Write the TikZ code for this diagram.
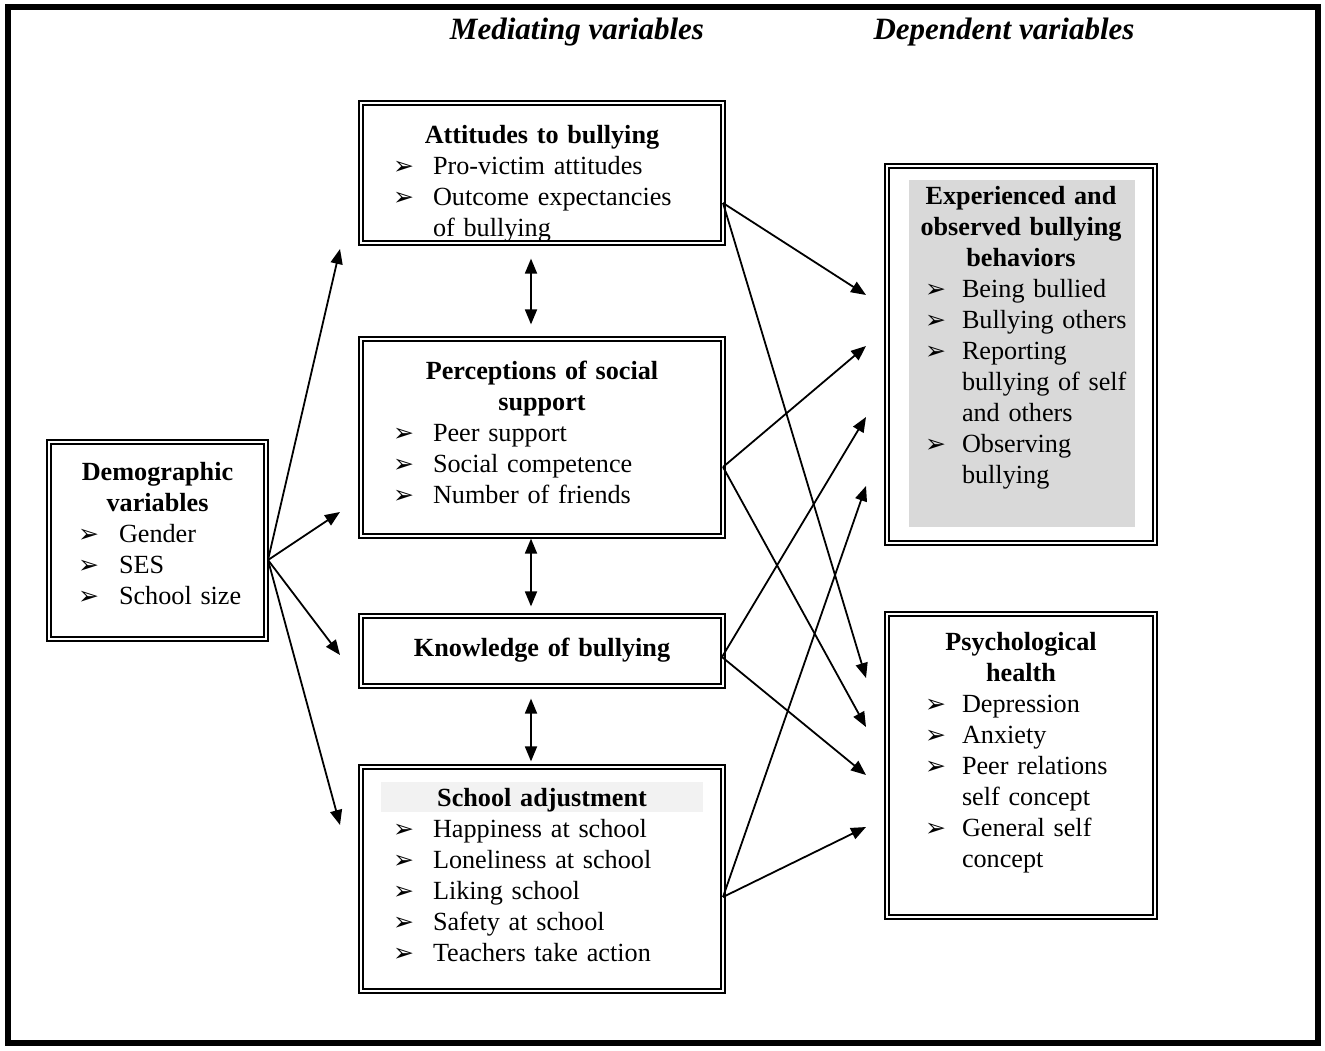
\documentclass[tikz,border=0pt]{standalone}
\usepackage{fontspec}
\setmainfont{Liberation Serif}
\newfontfamily\symfont{DejaVu Sans}
\usetikzlibrary{arrows.meta}
\setlength\parindent{0pt}
\definecolor{expgray}{HTML}{D9D9D9}
\definecolor{bandgray}{HTML}{F2F2F2}
\newlength\bind
\newlength\bgap
\newcommand{\bul}{{\symfont\fontsize{25}{25}\selectfont ➢}}
\newcommand{\itm}[1]{\par\hspace*{\bind}\makebox[\bgap][l]{\bul}#1}
\newcommand{\cnt}[1]{\par\hspace*{\bind}\hspace*{\bgap}#1}
\newcommand{\ttl}[1]{{\centering\bfseries #1\par}}
\tikzset{
  tribox/.style = {draw, line width=1.2pt, inner sep=0pt},
  boxtext/.style = {anchor=north, inner sep=0pt, font=\fontsize{26.2}{31}\selectfont},
  midtext/.style = {boxtext, text width=355pt,
    execute at begin node={\setlength\bind{28.5pt}\setlength\bgap{40pt}}},
  demotext/.style = {boxtext, text width=205pt,
    execute at begin node={\setlength\bind{23pt}\setlength\bgap{41pt}}},
  deptext/.style = {boxtext, text width=255pt,
    execute at begin node={\setlength\bind{31.5pt}\setlength\bgap{37pt}}},
  heading/.style = {font=\bfseries\itshape\fontsize{31}{36}\selectfont},
  link/.style = {line width=1.8pt, -{Triangle[length=15pt,width=12pt]}},
  twoway/.style = {line width=1.8pt, {Triangle[length=15pt,width=12pt]}-{Triangle[length=15pt,width=12pt]}}
}
\begin{document}
\begin{tikzpicture}[x=1pt,y=-1pt]
  \useasboundingbox (0,0) rectangle (1325,1050);
  \draw[line width=6pt] (8,7) rectangle (1318,1043);
  % column headings
  \node[heading] (med) at (577,32) {Mediating variables};
  \node[heading] (dep) at (1004,32) {Dependent variables};
  % boxes
  \node[tribox, minimum width=221pt, minimum height=201pt] (demo) at (157.5,540.5) {};
  \node[tribox, minimum width=366pt, minimum height=144pt] (att) at (542,173) {};
  \node[tribox, minimum width=366pt, minimum height=201pt] (per) at (542,437.5) {};
  \node[tribox, minimum width=366pt, minimum height=74pt] (kno) at (542,651) {};
  \node[tribox, minimum width=366pt, minimum height=228pt] (sch) at (542,879) {};
  \node[tribox, minimum width=272pt, minimum height=381pt] (exp) at (1021,354.5) {};
  \node[tribox, minimum width=272pt, minimum height=307pt] (psy) at (1021,765.5) {};
  \foreach \b in {demo,att,per,kno,sch,exp,psy}
    \draw[line width=2.5pt] ([shift={(4.5pt,-4.5pt)}]\b.north west)
      rectangle ([shift={(-4.5pt,4.5pt)}]\b.south east);
  \fill[expgray] (909,180) rectangle (1135,527);
  \fill[bandgray] (381,782) rectangle (703,812);
  % box texts
  \node[demotext] (demo-t) at (157.5,462) {\ttl{Demographic\\variables}%
    \itm{Gender}\itm{SES}\itm{School size}};
  \node[midtext] (att-t) at (542,125) {\ttl{Attitudes to bullying}%
    \itm{Pro-victim attitudes}\itm{Outcome expectancies}\cnt{of bullying}};
  \node[midtext] (per-t) at (542,361) {\ttl{Perceptions of social\\support}%
    \itm{Peer support}\itm{Social competence}\itm{Number of friends}};
  \node[midtext] (kno-t) at (542,638) {\ttl{Knowledge of bullying}};
  \node[midtext] (sch-t) at (542,788) {\ttl{School adjustment}%
    \itm{Happiness at school}\itm{Loneliness at school}\itm{Liking school}%
    \itm{Safety at school}\itm{Teachers take action}};
  \node[deptext] (exp-t) at (1021,186) {\ttl{Experienced and\\observed bullying\\behaviors}%
    \itm{Being bullied}\itm{Bullying others}\itm{Reporting}\cnt{bullying of self}%
    \cnt{and others}\itm{Observing}\cnt{bullying}};
  \node[deptext] (psy-t) at (1021,632) {\ttl{Psychological\\health}%
    \itm{Depression}\itm{Anxiety}\itm{Peer relations}\cnt{self concept}%
    \itm{General self}\cnt{concept}};
  % arrow ends
  \coordinate (demo-out) at (268,560);
  \coordinate (att-in) at (340,249);
  \coordinate (per-in) at (340,512);
  \coordinate (kno-in) at (340,655);
  \coordinate (sch-in) at (340,825);
  \coordinate (att-out) at (723,203);
  \coordinate (per-out) at (723,467);
  \coordinate (kno-out) at (722,657);
  \coordinate (sch-out) at (723,897);
  \foreach \y [count=\i] in {295,346,417,486}
    \coordinate (exp-in-\i) at (866,\y);
  \foreach \y [count=\i] in {678,727,775,827}
    \coordinate (psy-in-\i) at (866,\y);
  % demographic to mediators
  \foreach \b in {att,per,kno,sch}
    \draw[link] (demo-out) -- (\b-in);
  % mediators to dependents
  \foreach \b [count=\i] in {att,per,kno,sch} {
    \draw[link] (\b-out) -- (exp-in-\i);
    \draw[link] (\b-out) -- (psy-in-\i);
  }
  % between mediators
  \draw[twoway] ([xshift=-11pt,yshift=-13pt]att.south) -- ([xshift=-11pt,yshift=12pt]per.north);
  \draw[twoway] ([xshift=-11pt]per.south) -- ([xshift=-11pt,yshift=7pt]kno.north);
  \draw[twoway] ([xshift=-11pt,yshift=-10pt]kno.south) -- ([xshift=-11pt,yshift=3pt]sch.north);
\end{tikzpicture}
\end{document}
